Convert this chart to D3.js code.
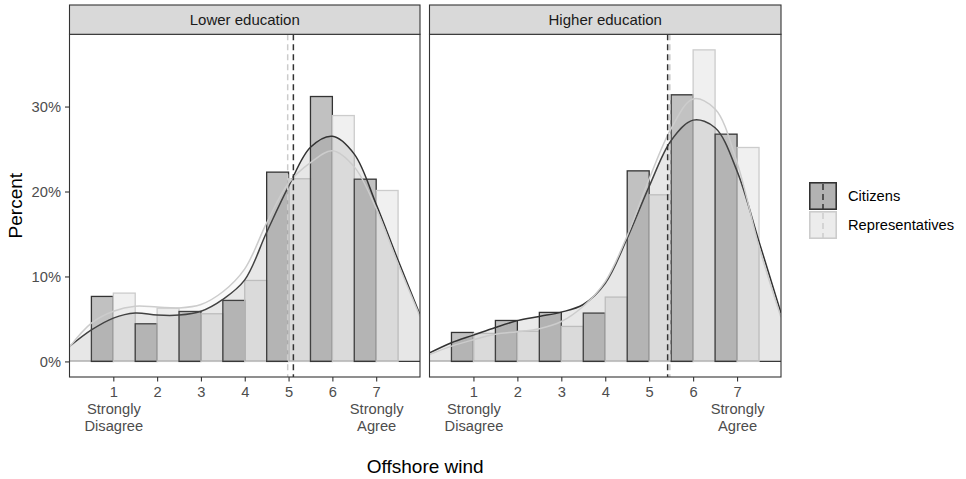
<!DOCTYPE html>
<html>
<head>
<meta charset="utf-8">
<script src="https://cdn.jsdelivr.net/npm/d3@7"></script>
<style>
  html, body { margin: 0; padding: 0; background: #fff; }
  svg { display: block; font-family: "Liberation Sans", Arial, sans-serif; }
</style>
</head>
<body>
<svg id="chart" width="966" height="479"></svg>
<script>
// Response categories (1 = strongly disagree … 7 = strongly agree)
const categories = [1, 2, 3, 4, 5, 6, 7];
const xTickLabels = ["1\nStrongly\nDisagree", "2", "3", "4", "5", "6", "7\nStrongly\nAgree"];
const yTicks = [0, 10, 20, 30];
const panelNames = ["Lower education", "Higher education"];
const groupNames = ["Citizens", "Representatives"];

// Share of respondents per answer (percent)
const lowerCitizens = [7.65, 4.43, 5.88, 7.18, 22.28, 31.18, 21.45];
const lowerReps = [8.04, 6.27, 5.61, 9.53, 21.5, 28.94, 20.12];
const higherCitizens = [3.41, 4.82, 5.77, 5.69, 22.43, 31.38, 26.75];
const higherReps = [3.3, 3.55, 4.12, 7.57, 19.61, 36.67, 25.18];

// Smoothed density (percent) evaluated along the axis
const densityX = [0, 0.5, 1, 1.5, 2, 2.5, 3, 3.5, 4, 4.5, 5, 5.5, 6, 6.5, 7, 7.5, 8];
const lowerCitizensDensity = [1.76, 3.7, 5.1, 5.7, 5.45, 5.45, 5.9, 7.3, 9.6, 15.2, 20.6, 25.2, 26.5, 24.4, 18.5, 11.9, 5.5];
const lowerRepsDensity = [1.7, 4.5, 5.9, 6.5, 6.4, 6.3, 6.7, 8.2, 10.9, 16.3, 21.0, 23.4, 24.8, 22.9, 18.0, 11.5, 5.3];
const higherCitizensDensity = [1.0, 2.2, 3.1, 4.0, 4.8, 5.3, 5.8, 6.7, 9.2, 14.5, 20.6, 26.0, 28.4, 27.5, 22.4, 14.1, 5.7];
const higherRepsDensity = [0.8, 1.8, 2.55, 3.2, 3.5, 3.85, 4.7, 6.5, 9.4, 14.8, 21.5, 27.4, 30.9, 29.7, 23.4, 13.5, 5.2];

// Group means (dashed reference lines)
const lowerMeans = [5.11, 4.98];
const higherMeans = [5.42, 5.47];

const panels = [
  { name: panelNames[0], bars: [lowerCitizens, lowerReps], dens: [lowerCitizensDensity, lowerRepsDensity], means: lowerMeans },
  { name: panelNames[1], bars: [higherCitizens, higherReps], dens: [higherCitizensDensity, higherRepsDensity], means: higherMeans }
];

const groupColor = ["#333333", "#cccccc"];
const barAlpha = 0.3, densAlpha = 0.1;
const textFont = "Liberation Sans, Arial, sans-serif";

const svg = d3.select("#chart");

const panelTop = 34.3, panelBottom = 377, stripTop = 5;
const panelX = [[69.5, 420], [429.5, 781]];

const maxBar = d3.max([lowerCitizens, lowerReps, higherCitizens, higherReps].flat());
const y = d3.scaleLinear().domain([-0.05 * maxBar, 1.05 * maxBar]).range([panelBottom, panelTop]);

panels.forEach((p, pi) => {
  const [px0, px1] = panelX[pi];
  const x = d3.scaleLinear().domain([0, 8]).range([px0, px1]);
  const g = svg.append("g");

  const clipId = "clip" + pi;
  svg.append("clipPath").attr("id", clipId)
    .append("rect").attr("x", px0).attr("y", panelTop).attr("width", px1 - px0).attr("height", panelBottom - panelTop);

  const plot = g.append("g").attr("clip-path", `url(#${clipId})`);

  // baseline below the density areas
  plot.append("line")
    .attr("x1", x(0)).attr("x2", x(8)).attr("y1", y(0)).attr("y2", y(0))
    .attr("stroke", groupColor[0]).attr("stroke-width", 1.3);
  plot.append("line")
    .attr("x1", x(0)).attr("x2", x(categories[0] - 0.5)).attr("y1", y(0)).attr("y2", y(0))
    .attr("stroke", groupColor[1]).attr("stroke-width", 1.3);

  // dodged bars, drawn in category order: citizens then representatives
  const barRows = [];
  categories.forEach((c, i) => {
    [0, 1].forEach(gi => barRows.push({ c, gi, v: p.bars[gi][i] }));
  });
  plot.selectAll("rect.bar").data(barRows).join("rect")
    .attr("class", "bar")
    .attr("x", d => x(d.c - 0.5 + d.gi * 0.5))
    .attr("width", d => x(d.c + d.gi * 0.5) - x(d.c - 0.5 + d.gi * 0.5))
    .attr("y", d => y(d.v))
    .attr("height", d => y(0) - y(d.v))
    .attr("fill", d => groupColor[d.gi]).attr("fill-opacity", barAlpha)
    .attr("stroke", d => groupColor[d.gi]).attr("stroke-width", 1.3);

  // density areas and their curves
  [0, 1].forEach(gi => {
    const pts = densityX.map((xv, k) => [xv, p.dens[gi][k]]);
    const area = d3.area().x(d => x(d[0])).y0(y(0)).y1(d => y(d[1])).curve(d3.curveCatmullRom.alpha(0.5));
    const line = d3.line().x(d => x(d[0])).y(d => y(d[1])).curve(d3.curveCatmullRom.alpha(0.5));
    plot.append("path").attr("d", area(pts))
      .attr("fill", groupColor[gi]).attr("fill-opacity", densAlpha).attr("stroke", "none");
    plot.append("path").attr("d", line(pts))
      .attr("fill", "none").attr("stroke", groupColor[gi]).attr("stroke-width", 1.5);
  });

  // dashed mean lines
  [0, 1].forEach(gi => {
    plot.append("line")
      .attr("x1", x(p.means[gi])).attr("x2", x(p.means[gi]))
      .attr("y1", panelTop).attr("y2", panelBottom)
      .attr("stroke", groupColor[gi]).attr("stroke-width", 1.5)
      .attr("stroke-dasharray", "6,4");
  });

  // panel border
  g.append("rect").attr("x", px0).attr("y", panelTop).attr("width", px1 - px0).attr("height", panelBottom - panelTop)
    .attr("fill", "none").attr("stroke", "#333333").attr("stroke-width", 1.1);

  // strip
  g.append("rect").attr("x", px0).attr("y", stripTop).attr("width", px1 - px0).attr("height", panelTop - stripTop)
    .attr("fill", "#d9d9d9").attr("stroke", "#333333").attr("stroke-width", 1.1);
  g.append("text").attr("x", (px0 + px1) / 2).attr("y", 25.3)
    .attr("text-anchor", "middle").attr("font-size", 15).attr("fill", "#1a1a1a")
    .text(p.name);

  // x axis
  const xAxis = d3.axisBottom(x).tickValues(categories).tickSize(4.5).tickSizeOuter(0).tickFormat("");
  const ax = g.append("g").attr("transform", `translate(0,${panelBottom})`).call(xAxis);
  ax.select(".domain").remove();
  ax.selectAll(".tick line").attr("stroke", "#333333").attr("stroke-width", 1.1);
  ax.selectAll(".tick").each(function (d, i) {
    const t = d3.select(this).append("text")
      .attr("text-anchor", "middle").attr("font-size", 14.7).attr("fill", "#4d4d4d")
      .attr("font-family", textFont);
    xTickLabels[i].split("\n").forEach((s, li) => {
      t.append("tspan").attr("x", 0).attr("y", 20 + li * 17).text(s);
    });
  });

  // y axis on the first panel only
  if (pi === 0) {
    const yAxis = d3.axisLeft(y).tickValues(yTicks).tickSize(4.5).tickSizeOuter(0).tickFormat(d => d + "%");
    const ay = g.append("g").attr("transform", `translate(${px0},0)`).call(yAxis);
    ay.select(".domain").remove();
    ay.selectAll(".tick line").attr("stroke", "#333333").attr("stroke-width", 1.1);
    ay.selectAll(".tick text").attr("font-size", 14.7).attr("fill", "#4d4d4d")
      .attr("font-family", textFont).attr("x", -8.5).attr("dy", "0.35em");
  }
});

// axis titles
svg.append("text").attr("x", (panelX[0][0] + panelX[1][1]) / 2).attr("y", 473)
  .attr("text-anchor", "middle").attr("font-size", 19).attr("fill", "#000")
  .text("Offshore wind");
svg.append("text").attr("transform", `translate(22,${(panelTop + panelBottom) / 2}) rotate(-90)`)
  .attr("text-anchor", "middle").attr("font-size", 19).attr("fill", "#000")
  .text("Percent");

// legend
const legend = svg.append("g").attr("transform", "translate(809,182)");
groupNames.forEach((name, gi) => {
  const k = legend.append("g").attr("transform", `translate(0,${gi * 29})`);
  k.append("rect").attr("width", 28).attr("height", 28).attr("fill", "#fff");
  k.append("rect").attr("x", 0.7).attr("y", 0.7).attr("width", 26.6).attr("height", 26.6)
    .attr("fill", groupColor[gi]).attr("fill-opacity", barAlpha)
    .attr("stroke", groupColor[gi]).attr("stroke-width", 1.3);
  k.append("rect").attr("x", 0.7).attr("y", 0.7).attr("width", 26.6).attr("height", 26.6)
    .attr("fill", groupColor[gi]).attr("fill-opacity", densAlpha)
    .attr("stroke", groupColor[gi]).attr("stroke-width", 1.3);
  k.append("line").attr("x1", 14).attr("x2", 14).attr("y1", 0).attr("y2", 28)
    .attr("stroke", groupColor[gi]).attr("stroke-width", 1.5).attr("stroke-dasharray", "6,4")
    .attr("stroke-dashoffset", -2);
  k.append("text").attr("x", 39).attr("y", 14).attr("dy", "0.35em")
    .attr("font-size", 14.7).attr("fill", "#000").text(name);
});
</script>
</body>
</html>
